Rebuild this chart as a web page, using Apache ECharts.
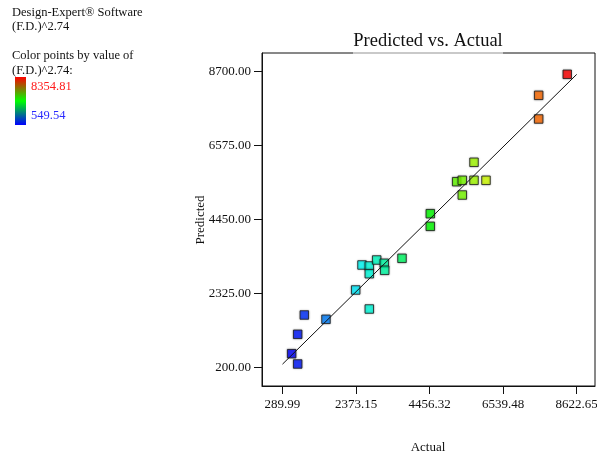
<!DOCTYPE html>
<html>
<head>
<meta charset="utf-8">
<script src="https://cdn.jsdelivr.net/npm/echarts@6/dist/echarts.min.js"></script>
<style>
  html, body { margin: 0; padding: 0; background: #fff; }
  #chart { width: 597px; height: 459px; }
</style>
</head>
<body>
<div id="chart"></div>
<script>
// Observed response (F.D.)^2.74 and model predictions for each run
const actual = [549.54, 720.5, 720.5, 907.4, 1522, 2363, 2748, 2542, 2748, 2958, 3173, 3185, 2748,
  3675, 4476, 4476, 5224, 5382, 5714, 6054, 5382, 5714, 7546, 7546, 8354.81];
const predicted = [591, 295, 1149, 1704, 1580, 2423, 1876, 3142, 3113, 3285, 3191, 2989, 2891,
  3334, 4617, 4254, 5537, 5577, 5577, 5577, 5154, 6095, 8021, 7340, 8625];

// Axis tick positions
const xTicks = [289.99, 2373.15, 4456.32, 6539.48, 8622.65];
const yTicks = [200.00, 2325.00, 4450.00, 6575.00, 8700.00];

// Colour scale range
const colorMin = 549.54;
const colorMax = 8354.81;

const SERIF = "'Liberation Serif', 'Times New Roman', serif";

const points = actual.map((a, i) => [a, predicted[i]]);
const diagonal = [[xTicks[0], xTicks[0]], [xTicks[xTicks.length - 1], xTicks[xTicks.length - 1]]];

const chart = echarts.init(document.getElementById('chart'));

chart.setOption({
  animation: false,
  backgroundColor: '#fff',
  grid: {
    left: 262, top: 53, right: 2, bottom: 73,
    outerBoundsMode: 'none',
    containLabel: false,
    show: true, borderColor: '#111', borderWidth: 1, backgroundColor: 'transparent'
  },
  xAxis: {
    type: 'value',
    min: -290.6, max: 9141,
    axisLine: { show: true, onZero: false, lineStyle: { color: '#111' } },
    axisTick: { show: true, inside: false, length: 8, customValues: xTicks, lineStyle: { color: '#111' } },
    axisLabel: {
      customValues: xTicks, margin: 12, color: '#111', fontFamily: SERIF, fontSize: 13,
      hideOverlap: false,
      formatter: v => v.toFixed(2)
    },
    splitLine: { show: false }
  },
  yAxis: {
    type: 'value',
    min: -337.7, max: 9237.7,
    axisLine: { show: true, onZero: false, lineStyle: { color: '#111' } },
    axisTick: { show: true, inside: false, length: 8, customValues: yTicks, lineStyle: { color: '#111' } },
    axisLabel: {
      customValues: yTicks, margin: 11, color: '#111', fontFamily: SERIF, fontSize: 13,
      formatter: v => v.toFixed(2)
    },
    splitLine: { show: false }
  },
  visualMap: {
    type: 'continuous',
    show: false,
    seriesIndex: 0,
    dimension: 0,
    min: colorMin,
    max: colorMax,
    inRange: {
      color: ['#0000ff', '#0080ff', '#00ffff', '#00ff80', '#00ff00', '#80ff00', '#ffff00', '#ff8000', '#ff0000']
    }
  },
  series: [
    {
      type: 'scatter',
      data: points,
      symbol: 'rect',
      symbolSize: 8.5,
      z: 2,
      itemStyle: {
        borderColor: '#1a1a1a', borderWidth: 1,
        shadowBlur: 2, shadowColor: 'rgba(0,0,0,0.35)'
      },
      emphasis: { disabled: true }
    },
    {
      type: 'line',
      data: diagonal,
      symbol: 'none',
      z: 3,
      lineStyle: { color: '#111', width: 1 },
      emphasis: { disabled: true }
    }
  ],
  graphic: [
    // Plot title, with a faint gap in the frame beneath it
    {
      type: 'rect', shape: { x: 353, y: 52, width: 150, height: 2 },
      style: { fill: 'rgba(255,255,255,0.55)' }, z: 100
    },
    {
      type: 'text', x: 428, y: 41, z: 100,
      style: {
        text: 'Predicted vs. Actual', fontFamily: SERIF, fontSize: 18.5,
        fill: '#111', align: 'center', verticalAlign: 'middle'
      }
    },
    // Axis titles
    {
      type: 'text', x: 428, y: 448, z: 100,
      style: { text: 'Actual', fontFamily: SERIF, fontSize: 13, fill: '#111', align: 'center', verticalAlign: 'middle' }
    },
    {
      type: 'text', x: 200.5, y: 220, rotation: Math.PI / 2, z: 100,
      style: { text: 'Predicted', fontFamily: SERIF, fontSize: 13, fill: '#111', align: 'center', verticalAlign: 'middle' }
    },
    // Software note and colour key
    {
      type: 'text', x: 12, y: 13, z: 100,
      style: { text: 'Design-Expert® Software', fontFamily: SERIF, fontSize: 12.5, fill: '#111', verticalAlign: 'middle' }
    },
    {
      type: 'text', x: 12, y: 27, z: 100,
      style: { text: '(F.D.)^2.74', fontFamily: SERIF, fontSize: 12.5, fill: '#111', verticalAlign: 'middle' }
    },
    {
      type: 'text', x: 12, y: 56, z: 100,
      style: { text: 'Color points by value of', fontFamily: SERIF, fontSize: 12.5, fill: '#111', verticalAlign: 'middle' }
    },
    {
      type: 'text', x: 12, y: 70.5, z: 100,
      style: { text: '(F.D.)^2.74:', fontFamily: SERIF, fontSize: 12.5, fill: '#111', verticalAlign: 'middle' }
    },
    {
      type: 'rect', shape: { x: 15, y: 77, width: 11, height: 48 }, z: 100,
      style: {
        fill: new echarts.graphic.LinearGradient(0, 0, 0, 1, [
          { offset: 0, color: '#ff0000' },
          { offset: 0.5, color: '#00ff00' },
          { offset: 1, color: '#0000ff' }
        ])
      }
    },
    {
      type: 'text', x: 31, y: 87, z: 100,
      style: { text: colorMax.toFixed(2), fontFamily: SERIF, fontSize: 12.5, fill: '#ff1a1a', verticalAlign: 'middle' }
    },
    {
      type: 'text', x: 31, y: 116, z: 100,
      style: { text: colorMin.toFixed(2), fontFamily: SERIF, fontSize: 12.5, fill: '#2a2aff', verticalAlign: 'middle' }
    }
  ]
});
</script>
</body>
</html>
